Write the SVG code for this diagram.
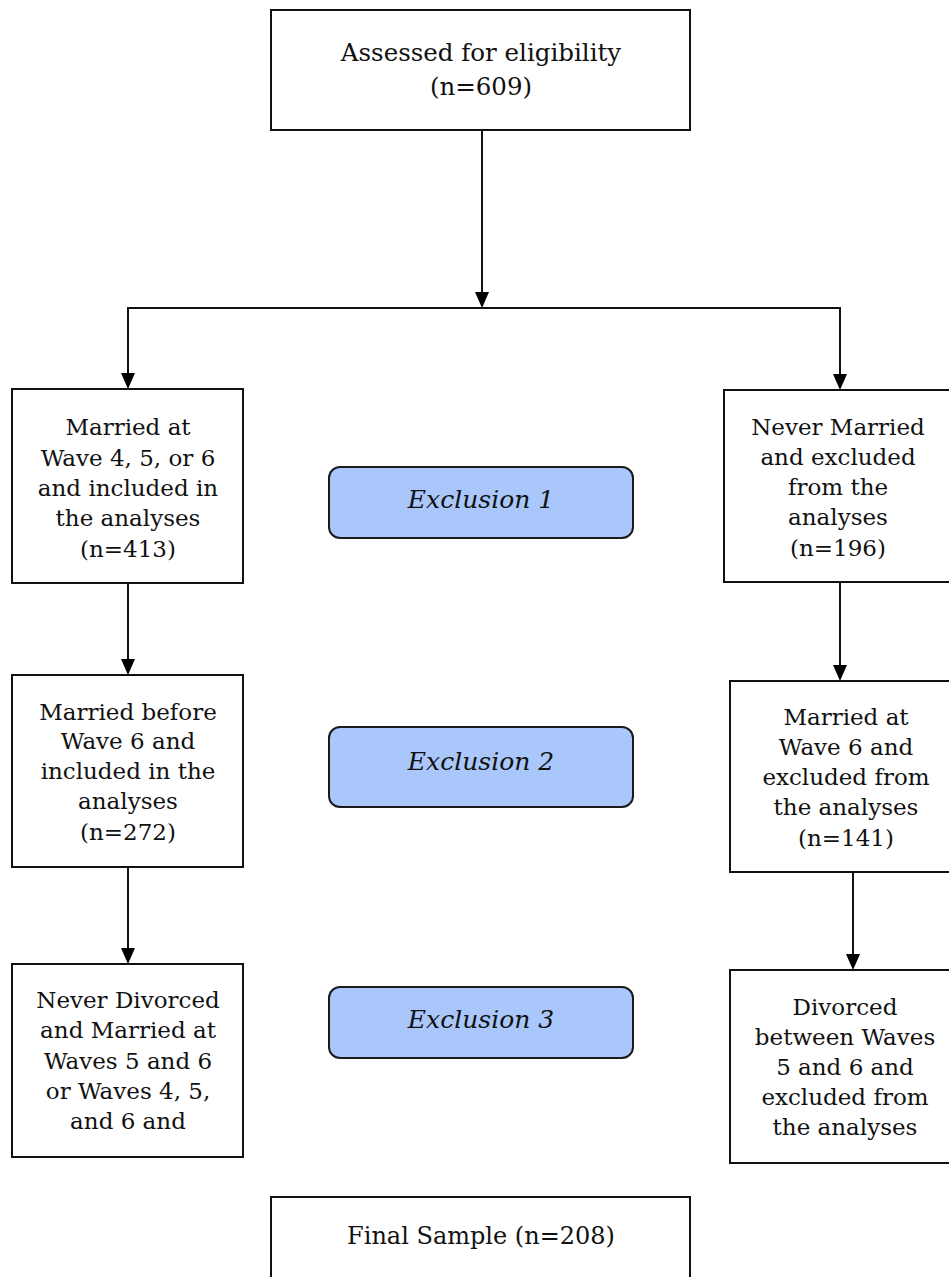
<svg xmlns="http://www.w3.org/2000/svg" width="949" height="1277" viewBox="0 0 949 1277">
<style>
.box{fill:#fff;stroke:#111;stroke-width:2}
.exc{fill:#a9c7fa;stroke:#1a1a1a;stroke-width:2}
.t{font-family:"DejaVu Serif","Liberation Serif",serif;font-size:23px;fill:#111;text-anchor:middle}
.ti{font-family:"DejaVu Serif","Liberation Serif",serif;font-size:25px;font-style:italic;fill:#111;text-anchor:middle}
.c{fill:none;stroke:#111;stroke-width:2}
.ah{fill:#000}
</style>
<g id="connectors">
<line class="c" x1="482" y1="130" x2="482" y2="292"/>
<path class="ah" d="M475,292 L489,292 L482,308 Z"/>
<polyline class="c" points="128,374 128,308 840,308 840,374"/>
<path class="ah" d="M121,373 L135,373 L128,389 Z"/>
<path class="ah" d="M833,374 L847,374 L840,390 Z"/>
<line class="c" x1="128" y1="583" x2="128" y2="660"/>
<path class="ah" d="M121,659 L135,659 L128,675 Z"/>
<line class="c" x1="840" y1="582" x2="840" y2="666"/>
<path class="ah" d="M833,665 L847,665 L840,681 Z"/>
<line class="c" x1="128" y1="867" x2="128" y2="949"/>
<path class="ah" d="M121,948 L135,948 L128,964 Z"/>
<line class="c" x1="853" y1="872" x2="853" y2="955"/>
<path class="ah" d="M846,954 L860,954 L853,970 Z"/>
</g>
<g id="assessed">
<rect class="box" x="271" y="10" width="419" height="120"/>
<text class="t" x="481" y="61" style="font-size:24.5px">Assessed for eligibility</text>
<text class="t" x="481" y="95" style="font-size:24.5px">(n=609)</text>
</g>
<g id="married456">
<rect class="box" x="12" y="389" width="231" height="194"/>
<text class="t" x="128" y="435">Married at</text>
<text class="t" x="128" y="466">Wave 4, 5, or 6</text>
<text class="t" x="128" y="496">and included in</text>
<text class="t" x="128" y="526">the analyses</text>
<text class="t" x="128" y="557">(n=413)</text>
</g>
<g id="exclusion1">
<rect class="exc" x="329" y="467" width="304" height="71" rx="11"/>
<text class="ti" x="481" y="508">Exclusion 1</text>
</g>
<g id="nevermarried">
<rect class="box" x="724" y="390" width="240" height="192"/>
<text class="t" x="838" y="435">Never Married</text>
<text class="t" x="838" y="465">and excluded</text>
<text class="t" x="838" y="495">from the</text>
<text class="t" x="838" y="525">analyses</text>
<text class="t" x="838" y="556">(n=196)</text>
</g>
<g id="marriedbefore6">
<rect class="box" x="12" y="675" width="231" height="192"/>
<text class="t" x="128" y="720">Married before</text>
<text class="t" x="128" y="749">Wave 6 and</text>
<text class="t" x="128" y="779">included in the</text>
<text class="t" x="128" y="809">analyses</text>
<text class="t" x="128" y="840">(n=272)</text>
</g>
<g id="exclusion2">
<rect class="exc" x="329" y="727" width="304" height="80" rx="11"/>
<text class="ti" x="481" y="770">Exclusion 2</text>
</g>
<g id="marriedat6">
<rect class="box" x="730" y="681" width="240" height="191"/>
<text class="t" x="846" y="725">Married at</text>
<text class="t" x="846" y="755">Wave 6 and</text>
<text class="t" x="846" y="785">excluded from</text>
<text class="t" x="846" y="815">the analyses</text>
<text class="t" x="846" y="846">(n=141)</text>
</g>
<g id="neverdivorced">
<rect class="box" x="12" y="964" width="231" height="193"/>
<text class="t" x="128" y="1008">Never Divorced</text>
<text class="t" x="128" y="1038">and Married at</text>
<text class="t" x="128" y="1069">Waves 5 and 6</text>
<text class="t" x="128" y="1099">or Waves 4, 5,</text>
<text class="t" x="128" y="1129">and 6 and</text>
</g>
<g id="exclusion3">
<rect class="exc" x="329" y="987" width="304" height="71" rx="11"/>
<text class="ti" x="481" y="1028">Exclusion 3</text>
</g>
<g id="divorced">
<rect class="box" x="730" y="970" width="240" height="193"/>
<text class="t" x="845" y="1015">Divorced</text>
<text class="t" x="845" y="1045">between Waves</text>
<text class="t" x="845" y="1075">5 and 6 and</text>
<text class="t" x="845" y="1105">excluded from</text>
<text class="t" x="845" y="1135">the analyses</text>
</g>
<g id="finalsample">
<rect class="box" x="271" y="1197" width="419" height="100"/>
<text class="t" x="481" y="1244" style="font-size:24px">Final Sample (n=208)</text>
</g>
</svg>
